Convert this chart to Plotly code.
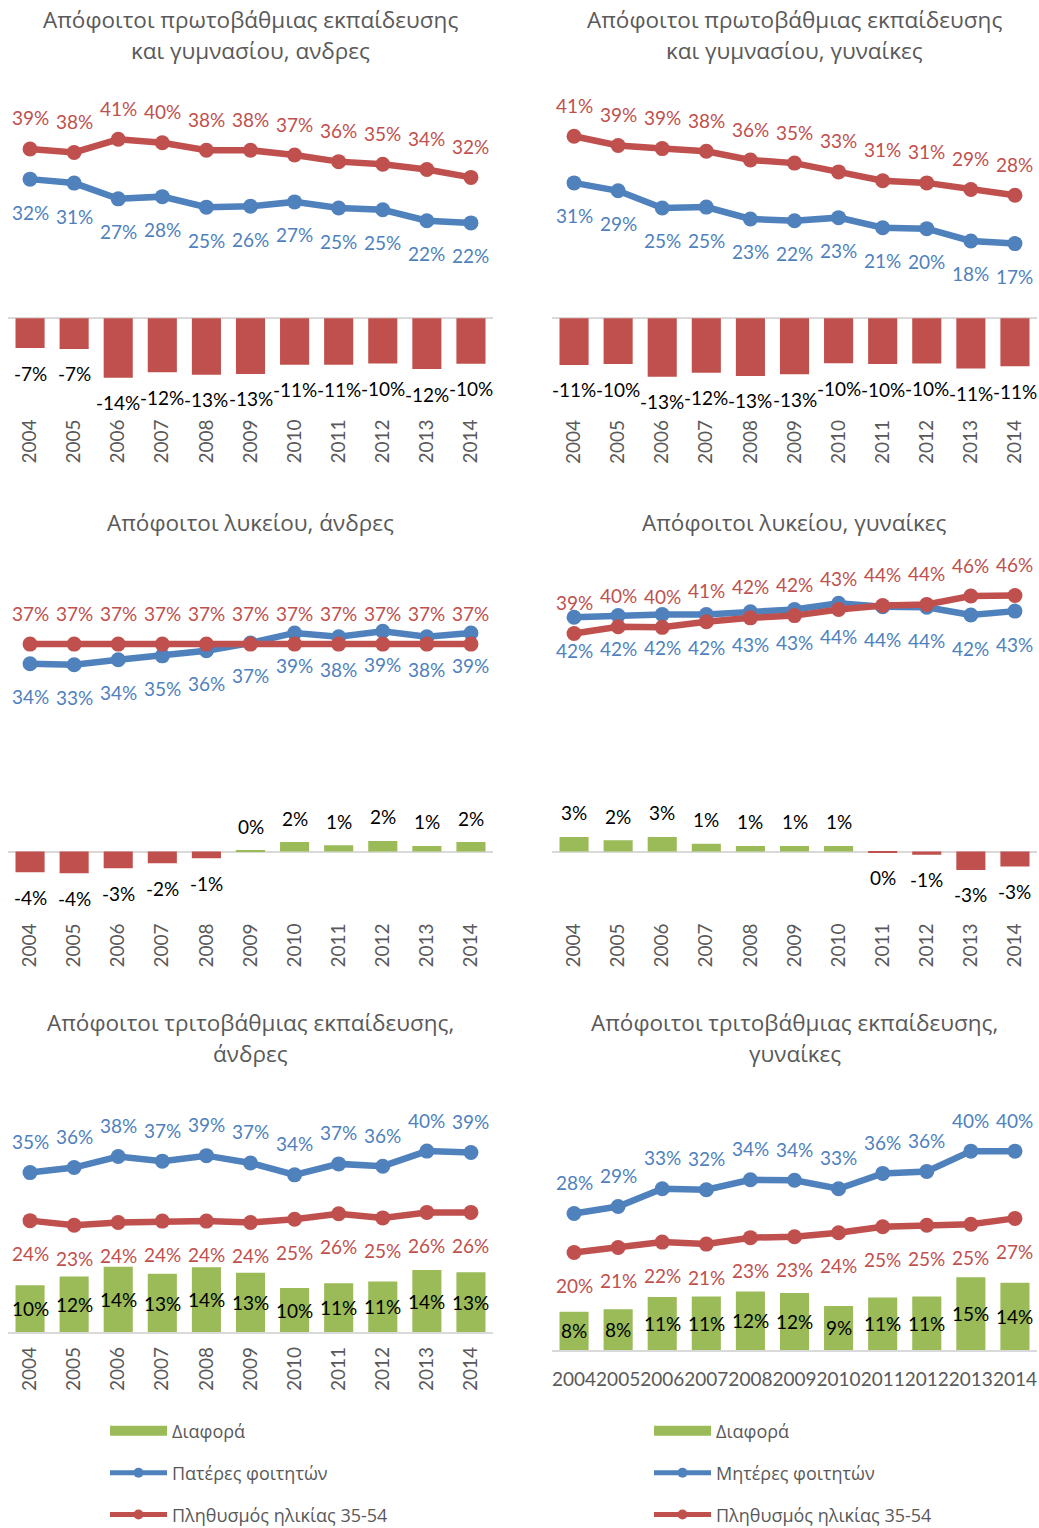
import plotly.graph_objects as go

W, H = 1039, 1528          # reference canvas used for layout fractions
FIG_H = 1534               # rendered figure height (capture is rescaled to 1528)

years = ["2004", "2005", "2006", "2007", "2008", "2009", "2010", "2011", "2012", "2013", "2014"]

# Panel 1: primary/lower secondary, men
pop_prim_m = [38.7, 37.9, 40.9, 40.1, 38.4, 38.4, 37.3, 35.8, 35.2, 34.0, 32.2]
fath_prim = [31.8, 30.9, 27.3, 27.8, 25.4, 25.6, 26.6, 25.2, 24.8, 22.3, 21.8]
diff_prim_m = [-6.8, -7.0, -13.6, -12.3, -12.9, -12.7, -10.6, -10.6, -10.3, -11.6, -10.4]

# Panel 2: primary/lower secondary, women
pop_prim_f = [41.4, 39.3, 38.6, 38.0, 36.0, 35.3, 33.3, 31.3, 30.8, 29.3, 28.0]
moth_prim = [30.8, 29.0, 25.1, 25.3, 22.6, 22.2, 22.9, 20.6, 20.4, 17.6, 17.0]
diff_prim_f = [-10.6, -10.4, -13.3, -12.4, -13.1, -12.7, -10.2, -10.4, -10.3, -11.4, -10.9]

# Panel 3: upper secondary, men
pop_lyc_m = [37.1, 37.1, 37.1, 37.1, 37.1, 37.1, 37.1, 37.1, 37.1, 37.1, 37.1]
fath_lyc = [33.6, 33.4, 34.3, 35.0, 35.9, 37.3, 39.1, 38.4, 39.4, 38.4, 39.1]
diff_lyc_m = [-3.7, -3.9, -3.0, -2.1, -1.2, 0.1, 1.7, 1.1, 1.9, 1.0, 1.7]

# Panel 4: upper secondary, women
pop_lyc_f = [39.0, 40.2, 40.1, 41.1, 41.8, 42.2, 43.3, 44.0, 44.2, 45.7, 45.8]
moth_lyc = [41.9, 42.2, 42.4, 42.4, 42.9, 43.3, 44.4, 43.8, 43.7, 42.3, 43.0]
diff_lyc_f = [2.6, 2.0, 2.6, 1.4, 1.0, 1.0, 1.0, -0.2, -0.6, -3.3, -2.7]

# Panel 5: tertiary, men
fath_tert = [34.9, 36.0, 38.4, 37.4, 38.6, 37.0, 34.4, 36.8, 36.3, 39.6, 39.3]
pop_tert_m = [24.4, 23.4, 24.0, 24.3, 24.3, 24.0, 24.7, 25.9, 25.0, 26.2, 26.2]
diff_tert_m = [10.3, 12.2, 14.3, 12.8, 14.2, 13.0, 9.7, 10.7, 11.1, 13.6, 13.1]

# Panel 6: tertiary, women
moth_tert = [27.6, 29.0, 32.6, 32.4, 34.4, 34.3, 32.6, 35.7, 36.1, 40.2, 40.2]
pop_tert_f = [19.7, 20.7, 21.8, 21.4, 22.7, 22.9, 23.7, 24.9, 25.2, 25.4, 26.6]
diff_tert_f = [7.7, 8.2, 10.7, 10.8, 11.8, 11.5, 8.9, 10.6, 10.8, 14.7, 13.6]

titles = [
    ["Απόφοιτοι πρωτοβάθμιας εκπαίδευσης", "και γυμνασίου, ανδρες"],
    ["Απόφοιτοι πρωτοβάθμιας εκπαίδευσης", "και γυμνασίου, γυναίκες"],
    ["Απόφοιτοι λυκείου, άνδρες"],
    ["Απόφοιτοι λυκείου, γυναίκες"],
    ["Απόφοιτοι τριτοβάθμιας εκπαίδευσης,", "άνδρες"],
    ["Απόφοιτοι τριτοβάθμιας εκπαίδευσης,", "γυναίκες"],
]
name_diff = "Διαφορά"
name_fath = "Πατέρες φοιτητών"
name_moth = "Μητέρες φοιτητών"
name_pop = "Πληθυσμός ηλικίας 35-54"

BLUE = "#4F81BD"
RED = "#C0504D"
GREEN = "#9BBB59"
GRAY = "#595959"
LBL_FONT = "Lato, 'Liberation Sans', sans-serif"
TXT_FONT = "'Open Sans', 'Noto Sans', sans-serif"
LBL_SIZE = 19


def pct(v):
    return f"{int(round(v))}%"


panels = [
    dict(x0=8, x1=493, zero=320, sc=4.4, ymin=-22, ymax=52, ty=[20, 51],
         parent=fath_prim, pop=pop_prim_m, diff=diff_prim_m, pname=name_fath,
         parent_above=False, bar_mode="outside", rot=True, legend=None),
    dict(x0=552, x1=1037, zero=320, sc=4.42, ymin=-22, ymax=52, ty=[20, 51],
         parent=moth_prim, pop=pop_prim_f, diff=diff_prim_f, pname=name_moth,
         parent_above=False, bar_mode="outside", rot=True, legend=None),
    dict(x0=8, x1=493, zero=856, sc=5.62, ymin=-12, ymax=50, ty=[525],
         parent=fath_lyc, pop=pop_lyc_m, diff=diff_lyc_m, pname=name_fath,
         parent_above=False, bar_mode="outside", rot=True, legend=None),
    dict(x0=552, x1=1037, zero=856, sc=5.62, ymin=-12, ymax=50, ty=[525],
         parent=moth_lyc, pop=pop_lyc_f, diff=diff_lyc_f, pname=name_moth,
         parent_above=False, bar_mode="outside", rot=True, legend=None),
    dict(x0=8, x1=493, zero=1339.3, sc=4.6, ymin=0, ymax=45, ty=[1028, 1059],
         parent=fath_tert, pop=pop_tert_m, diff=diff_tert_m, pname=name_fath,
         parent_above=True, bar_mode="center", rot=True, legend="legend"),
    dict(x0=552, x1=1037, zero=1357, sc=4.97, ymin=0, ymax=44, ty=[1028, 1059],
         parent=moth_tert, pop=pop_tert_f, diff=diff_tert_f, pname=name_moth,
         parent_above=True, bar_mode="center", rot=False, legend="legend2"),
]

fig = go.Figure()
annotations = []
layout = {}

for i, p in enumerate(panels):
    k = "" if i == 0 else str(i + 1)
    xa, ya = "x" + k, "y" + k
    bar_colors = [RED if v < 0 else GREEN for v in p["diff"]]

    fig.add_trace(go.Bar(
        x=years, y=p["diff"], name=name_diff, marker=dict(color=bar_colors, line=dict(width=0)),
        xaxis=xa, yaxis=ya, showlegend=False, hoverinfo="skip"))
    fig.add_trace(go.Scatter(
        x=years, y=p["parent"], name=p["pname"], mode="lines+markers",
        line=dict(color=BLUE, width=6.5), marker=dict(color=BLUE, size=15),
        xaxis=xa, yaxis=ya, showlegend=False, hoverinfo="skip"))
    fig.add_trace(go.Scatter(
        x=years, y=p["pop"], name=name_pop, mode="lines+markers",
        line=dict(color=RED, width=6.5), marker=dict(color=RED, size=15),
        xaxis=xa, yaxis=ya, showlegend=False, hoverinfo="skip"))

    if p["legend"] is not None:
        leg = p["legend"]
        fig.add_trace(go.Scatter(
            x=[None], y=[None], name=name_diff, mode="lines", line=dict(color=GREEN, width=12),
            xaxis=xa, yaxis=ya, legend=leg, legendgroup=f"d{i}", hoverinfo="skip"))
        fig.add_trace(go.Scatter(
            x=[None], y=[None], name=p["pname"], mode="lines+markers",
            line=dict(color=BLUE, width=5), marker=dict(color=BLUE, size=10),
            xaxis=xa, yaxis=ya, legend=leg, legendgroup=f"p{i}", hoverinfo="skip"))
        fig.add_trace(go.Scatter(
            x=[None], y=[None], name=name_pop, mode="lines+markers",
            line=dict(color=RED, width=5), marker=dict(color=RED, size=10),
            xaxis=xa, yaxis=ya, legend=leg, legendgroup=f"q{i}", hoverinfo="skip"))

    # data labels (x given as category index)
    par_shift = 31 if p["parent_above"] else -33
    pop_shift = -33 if p["parent_above"] else 31
    for j, v in enumerate(p["parent"]):
        annotations.append(dict(x=j, y=v, xref=xa, yref=ya, text=pct(v), showarrow=False,
                                yshift=par_shift, font=dict(family=LBL_FONT, size=LBL_SIZE, color=BLUE)))
    for j, v in enumerate(p["pop"]):
        annotations.append(dict(x=j, y=v, xref=xa, yref=ya, text=pct(v), showarrow=False,
                                yshift=pop_shift, font=dict(family=LBL_FONT, size=LBL_SIZE, color=RED)))
    for j, v in enumerate(p["diff"]):
        if p["bar_mode"] == "outside":
            annotations.append(dict(x=j, y=v, xref=xa, yref=ya, text=pct(v), showarrow=False,
                                    yshift=(24 if v >= 0 else -25),
                                    font=dict(family=LBL_FONT, size=LBL_SIZE, color="#000000")))
        else:
            annotations.append(dict(x=j, y=v / 2, xref=xa, yref=ya, text=pct(v), showarrow=False,
                                    font=dict(family=LBL_FONT, size=LBL_SIZE, color="#000000")))

    top_px = p["zero"] - p["ymax"] * p["sc"]
    bot_px = p["zero"] - p["ymin"] * p["sc"]
    if p["ymin"] == 0:
        standoff = 5 if p["rot"] else 11
    else:
        standoff = 0
    layout["xaxis" + k] = dict(
        domain=[p["x0"] / W, p["x1"] / W], anchor=ya, type="category",
        range=[-0.5, len(years) - 0.5], showgrid=False, zeroline=False,
        showline=(p["ymin"] == 0), linecolor="#D9D9D9", linewidth=2,
        tickangle=(-90 if p["rot"] else 0), ticks="", ticklabelstandoff=standoff,
        tickfont=dict(family=LBL_FONT, size=19, color=GRAY), fixedrange=True)
    layout["yaxis" + k] = dict(
        domain=[1 - bot_px / H, 1 - top_px / H], anchor=xa, range=[p["ymin"], p["ymax"]],
        showgrid=False, showticklabels=False, ticks="",
        zeroline=(p["ymin"] < 0), zerolinecolor="#D9D9D9", zerolinewidth=2, fixedrange=True)

    for line_text, line_y in zip(titles[i], p["ty"]):
        annotations.append(dict(x=(p["x0"] + p["x1"]) / 2 / W, y=1 - line_y / H, xref="paper", yref="paper",
                                text=line_text, showarrow=False, xanchor="center", yanchor="middle",
                                font=dict(family=TXT_FONT, size=22.5, color=GRAY)))

legend_common = dict(
    orientation="v", traceorder="grouped", tracegroupgap=15.5, itemwidth=57,
    bgcolor="rgba(0,0,0,0)", font=dict(family=TXT_FONT, size=18, color=GRAY),
    xanchor="left", yanchor="top", itemclick=False, itemdoubleclick=False)

fig.update_layout(
    width=W, height=FIG_H, margin=dict(l=0, r=0, t=0, b=0),
    paper_bgcolor="white", plot_bgcolor="white",
    barmode="relative", bargap=0.34,
    annotations=annotations,
    legend=dict(x=105 / W, y=1 - 1420 / H, **legend_common),
    legend2=dict(x=649 / W, y=1 - 1420 / H, **legend_common),
    **layout)

post = (
    "document.documentElement.style.cssText='margin:0;padding:0;overflow:hidden;';"
    "document.body.style.cssText='margin:0;padding:0;overflow:hidden;';"
    "var gd=document.getElementById('{plot_id}');"
    "gd.style.position='fixed';gd.style.top='0px';gd.style.left='0px';"
)
fig.write_html("out.html", config={"displayModeBar": False}, post_script=post)
